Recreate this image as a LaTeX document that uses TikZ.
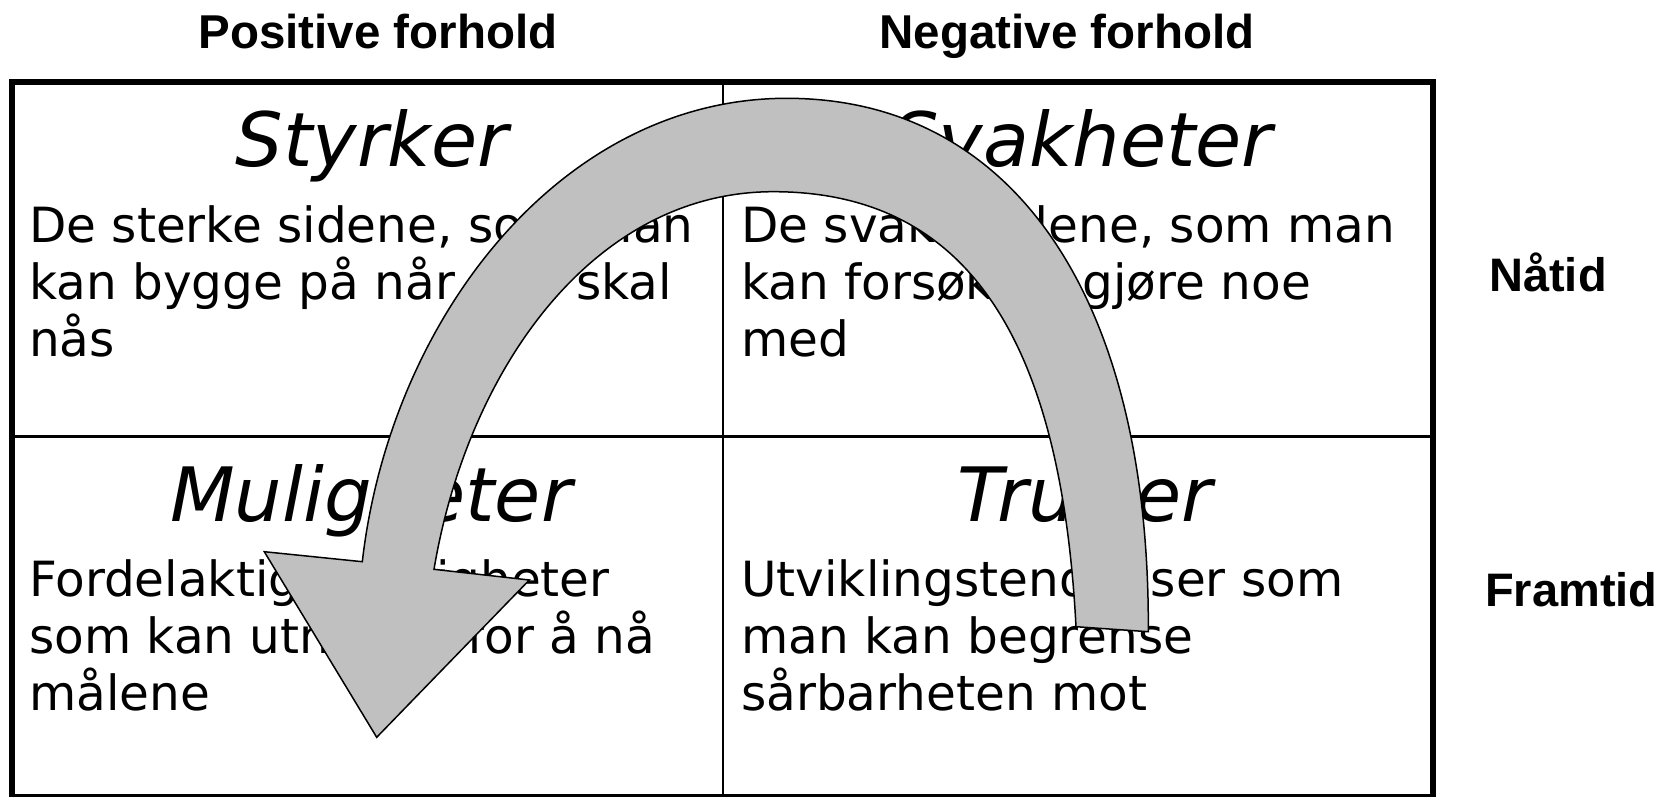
\documentclass[tikz,border=0pt]{standalone}
\usepackage{fontspec}
\setmainfont{DejaVu Sans}[ItalicFont={DejaVu Sans Oblique},BoldFont={DejaVu Sans Bold}]
\newfontfamily\hdrfont{Liberation Sans}[BoldFont={Liberation Sans Bold}]
\definecolor{arrowgray}{HTML}{C0C0C0}
\begin{document}
\begin{tikzpicture}[x=1pt,y=-1pt,
  hdr/.style={font=\hdrfont\bfseries\fontsize{47.5}{57}\selectfont, anchor=base, inner sep=0pt},
  side/.style={font=\hdrfont\bfseries\fontsize{47}{57}\selectfont, anchor=base west, inner sep=0pt},
  ttl/.style={font=\itshape\fontsize{75}{90}\selectfont, anchor=base, inner sep=0pt},
  body/.style={font=\fontsize{48.5}{57}\selectfont, anchor=base west, inner sep=0pt},
  outerline/.style={line width=6pt},
  innerline/.style={line width=2.5pt},
  arrowband/.style={fill=arrowgray, draw=black, line width=1.5pt, line join=miter}]
\useasboundingbox (0,0) rectangle (1662,797);

% table
\coordinate (c-tl) at (11.7,82);
\coordinate (c-br) at (1432.5,797);
\coordinate (v-top) at (723,82);
\coordinate (v-bot) at (723,797);
\coordinate (h-left) at (11.7,436.7);
\coordinate (h-right) at (1432.5,436.7);
\draw[innerline] (v-top) -- (v-bot);
\draw[innerline] (h-left) -- (h-right);
\draw[outerline] (c-tl) rectangle (c-br);

% headers
\node[hdr] (hpos) at (378,48.5) {Positive forhold};
\node[hdr] (hneg) at (1067,48.5) {Negative forhold};
\node[side] (now) at (1489,291) {Nåtid};
\node[side] (fut) at (1485,606) {Framtid};

% titles
\node[ttl] (tS) at (372,166) {Styrker};
\node[ttl] (tW) at (1082,166) {Svakheter};
\node[ttl] (tO) at (371,521) {Muligheter};
\node[ttl] (tT) at (1085,521) {Trusler};

% bodies
\node[body] (s1) at (29,242) {De sterke sidene, som man};
\node[body] (s2) at (29,299) {kan bygge på når mål skal};
\node[body] (s3) at (29,356) {nås};
\node[body] (w1) at (741,242) {De svake sidene, som man};
\node[body] (w2) at (741,299) {kan forsøke å gjøre noe};
\node[body] (w3) at (741,356) {med};
\node[body] (o1) at (29,596) {Fordelaktige muligheter};
\node[body] (o2) at (29,653) {som kan utnyttes for å nå};
\node[body] (o3) at (29,710) {målene};
\node[body] (r1) at (741,596) {Utviklingstendenser som};
\node[body] (r2) at (741,653) {man kan begrense};
\node[body] (r3) at (741,710) {sårbarheten mot};

% curved block arrow
\draw[arrowband] (1148.3,631.7)
  .. controls (1150,300) and (1015,98.3) .. (786.7,98.3)
  .. controls (560,98.3) and (390,320) .. (362.3,561.7)
  -- (264.3,551.7) -- (376.7,737.3) -- (529.3,580) -- (434,569.3)
  .. controls (467.6,369.3) and (593.3,191.7) .. (773.3,191.7)
  .. controls (980,191.7) and (1062,360) .. (1076,626.7)
  -- cycle;
\end{tikzpicture}
\end{document}
